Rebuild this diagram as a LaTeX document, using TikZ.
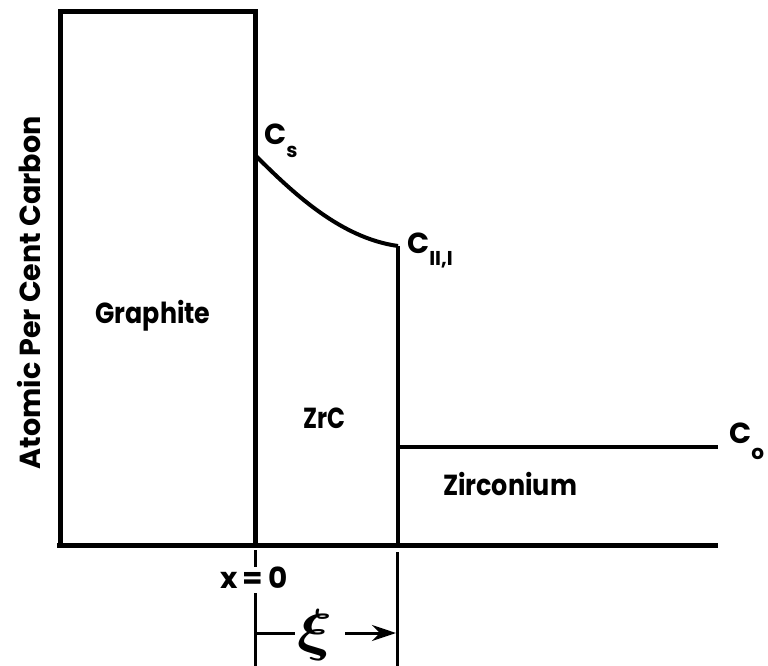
\documentclass[tikz,border=0pt]{standalone}
\usepackage{amsmath}
\usepackage{bm}
\usepackage{graphicx}
\usepackage{fontspec}
\setmainfont{Poppins}
\usetikzlibrary{arrows.meta}
\newcommand{\lowsub}[2]{\raisebox{-#1}{\fontsize{20}{20}\selectfont #2}}
\newcommand{\fitw}[2]{\resizebox{#1}{\height}{#2}}
\begin{document}
\begin{tikzpicture}[x=1pt,y=-1pt,
  heavy/.style={line width=5pt},
  medium/.style={line width=4pt},
  light/.style={line width=3pt},
  lbl/.style={font=\fontsize{29}{32}\selectfont\bfseries, inner sep=0pt},
  sym/.style={font=\fontsize{32}{34}\selectfont, inner sep=0pt}]
\useasboundingbox (0,0) rectangle (768,666);
% graphite box
\coordinate (gtl) at (60,12);
\coordinate (gtr) at (255,12);
\coordinate (gbl) at (60,545);
\coordinate (gbr) at (255,545);
\coordinate (axr) at (718,545);
\coordinate (cs) at (255,155);
\coordinate (ci) at (398,246);
\coordinate (zb) at (398,545);
\coordinate (co) at (398,447);
\coordinate (cor) at (718,447);
\draw[heavy, line join=miter] (gbl) -- (gtl) -- (gtr) -- (gbr);
\draw[heavy] (57,545) -- (axr);
\draw[medium] (cs) .. controls (292,192) and (340,238) .. (ci);
\draw[medium, line join=miter] (ci) -- (zb);
\draw[medium] (co) -- (cor);
% below axis
\coordinate (x0a) at (255,550);
\coordinate (x0b) at (255,567);
\coordinate (x0c) at (255,593);
\coordinate (x0d) at (255,666);
\coordinate (zl) at (397,552);
\coordinate (zl2) at (397,666);
\draw[light] (x0a) -- (x0b);
\draw[light] (x0c) -- (x0d);
\draw[light] (zl) -- (zl2);
\node[lbl, anchor=base] (xeq) at (254,588) {\fitw{67pt}{x\,=\,0}};
\node[sym] (xi) at (315,635) {\resizebox{35pt}{40pt}{$\bm{\xi}$}};
\coordinate (al) at (255,633);
\coordinate (ar) at (396,633);
\coordinate (as) at (345,633);
\coordinate (ae) at (295,633);
\draw[light] (al) -- (ae);
\draw[light, -{Stealth[length=24pt,width=16pt]}] (as) -- (ar);
% labels
\node[lbl, anchor=base] (graphite) at (153,323) {\fitw{115pt}{Graphite}};
\node[lbl, anchor=base] (zrc) at (324,428) {\fitw{42pt}{ZrC}};
\node[lbl, anchor=base] (zirc) at (510,495) {\fitw{134pt}{Zirconium}};
\node[lbl, anchor=base west] (csl) at (264,145) {C\lowsub{13pt}{s}};
\node[lbl, anchor=base west] (cil) at (407,253) {C\lowsub{12pt}{II,I}};
\node[lbl, anchor=base west] (col) at (729,443) {C\lowsub{16pt}{o}};
\node[lbl, rotate=90, anchor=base] (ylab) at (40,293) {\fitw{353pt}{Atomic Per Cent Carbon}};
\end{tikzpicture}
\end{document}
